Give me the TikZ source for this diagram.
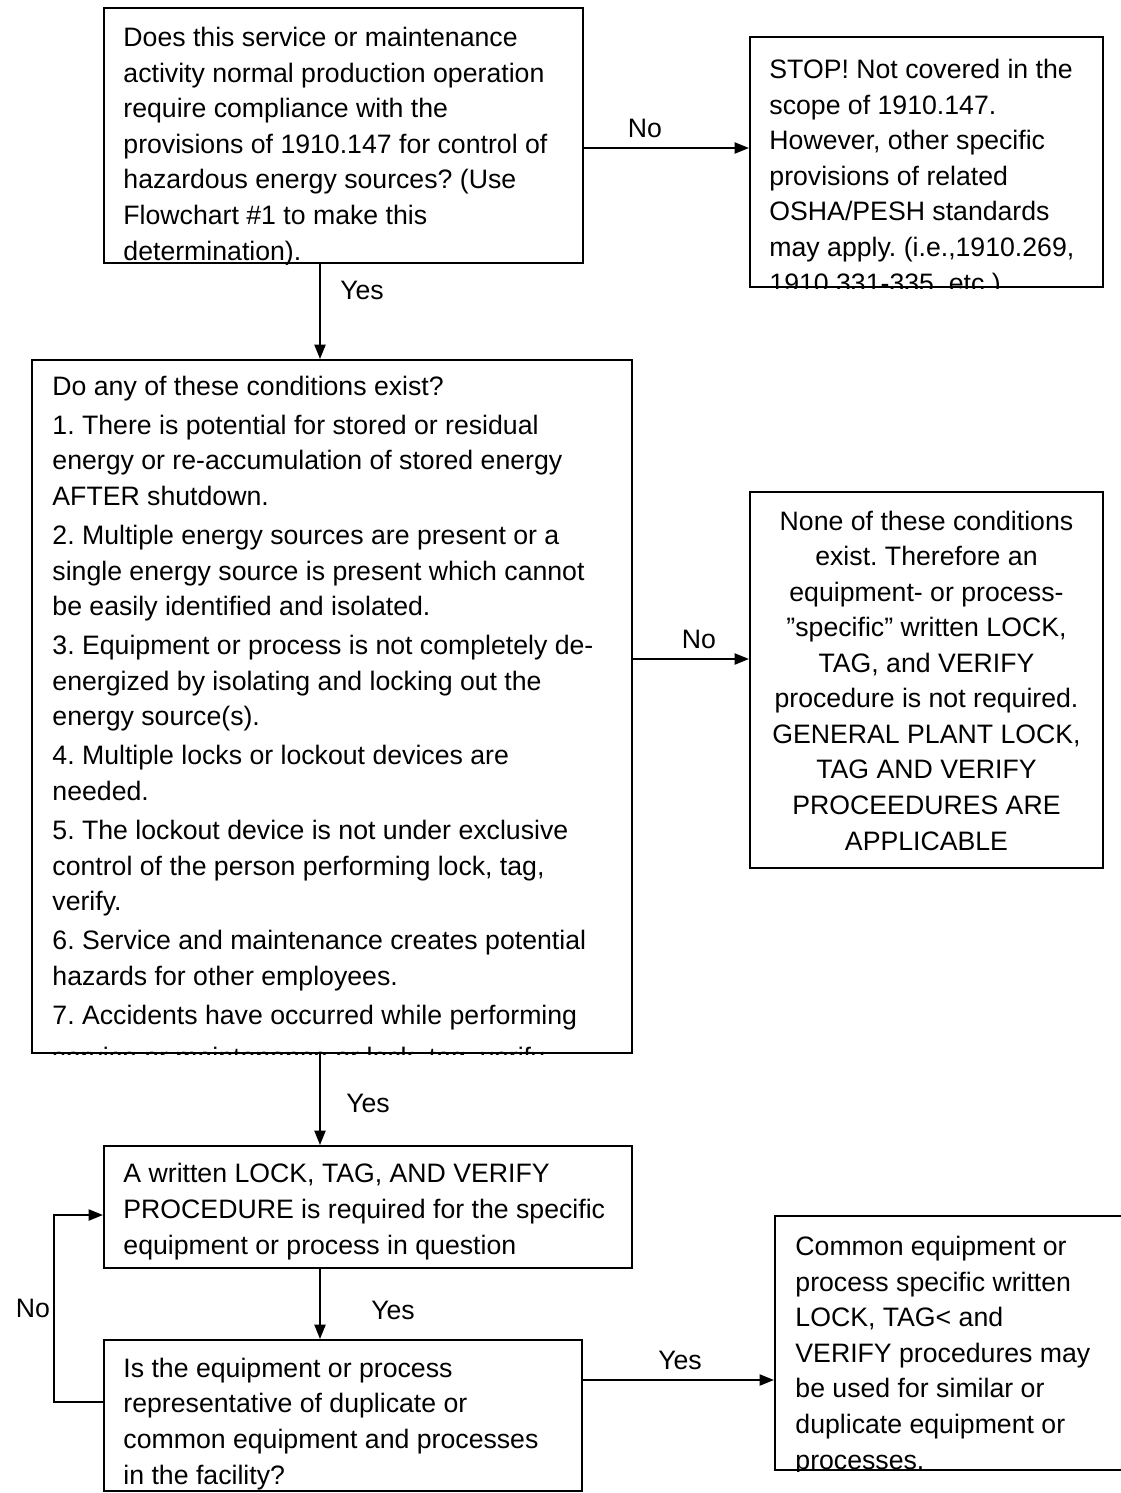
\documentclass[tikz,border=0pt]{standalone}
\usepackage{fontspec}
\setmainfont{Liberation Sans}
\usetikzlibrary{arrows.meta,fit}
\frenchspacing

\tikzset{
  box/.style={draw, line width=0.9pt, inner sep=0pt},
  txt/.style={anchor=base west, align=left, inner sep=0pt, font=\fontsize{12}{16}\selectfont},
  ctxt/.style={anchor=base, align=center, inner sep=0pt, font=\fontsize{12}{16}\selectfont},
  lbl/.style={inner sep=0pt, font=\fontsize{12}{16}\selectfont},
  flow/.style={line width=0.9pt, -{Triangle[length=6.5pt,width=5pt]}}
}

\begin{document}
\begin{tikzpicture}[x=0.45pt,y=-0.45pt]
\useasboundingbox (0,0) rectangle (1121,1493);
\clip (0,0) rectangle (1121,1493);

% boxes
\node [box, fit={(104,8) (583,263)}] (ask) {};
\node [box, fit={(750,37) (1103,287)}] (stop) {};
\node [box, fit={(32,360) (632,1053)}] (cond) {};
\node [box, fit={(750,492) (1103,868)}] (none) {};
\node [box, fit={(104,1146) (632,1268)}] (req) {};
\node [box, fit={(104,1340) (582,1491)}] (dup) {};
\node [box, fit={(775,1216) (1140,1470)}] (common) {};

% texts, cut off by their boxes (base = last line)
\begin{scope}
\clip (ask.south west) rectangle (ask.north east);
\node [txt] (tAsk) at (123,260) {Does this service or maintenance\\
activity normal production operation\\
require compliance with the\\
provisions of 1910.147 for control of\\
hazardous energy sources? (Use\\
Flowchart \#1 to make this\\
determination).};
\end{scope}

\begin{scope}
\clip (stop.south west) rectangle (stop.north east);
\node [txt] (tStop) at (769,292) {STOP! Not covered in the\\
scope of 1910.147.\\
However, other specific\\
provisions of related\\
OSHA/PESH standards\\
may apply. (i.e.,1910.269,\\
1910.331-335, etc.)};
\end{scope}

\begin{scope}
\clip (cond.south west) rectangle (cond.north east);
\node [txt] (tCond) at (52,1066) {Do any of these conditions exist?\\[1.6pt]
1. There is potential for stored or residual\\
energy or re-accumulation of stored energy\\
AFTER shutdown.\\[1.6pt]
2. Multiple energy sources are present or a\\
single energy source is present which cannot\\
be easily identified and isolated.\\[1.6pt]
3. Equipment or process is not completely de-\\
energized by isolating and locking out the\\
energy source(s).\\[1.6pt]
4. Multiple locks or lockout devices are\\
needed.\\[1.6pt]
5. The lockout device is not under exclusive\\
control of the person performing lock, tag,\\
verify.\\[1.6pt]
6. Service and maintenance creates potential\\
hazards for other employees.\\[1.6pt]
7. Accidents have occurred while performing\\[2.7pt]
service or maintenance or lock, tag, verify.};
\end{scope}

\node [ctxt] (tNone) at (926.5,850) {None of these conditions\\
exist. Therefore an\\
equipment- or process-\\
”specific” written LOCK,\\
TAG, and VERIFY\\
procedure is not required.\\
GENERAL PLANT LOCK,\\
TAG AND VERIFY\\
PROCEEDURES ARE\\
APPLICABLE};

\node [txt] (tReq) at (123,1254) {A written LOCK, TAG, AND VERIFY\\
PROCEDURE is required for the specific\\
equipment or process in question};

\begin{scope}
\clip (dup.south west) rectangle (dup.north east);
\node [txt] (tDup) at (123,1484) {Is the equipment or process\\
representative of duplicate or\\
common equipment and processes\\
in the facility?};
\end{scope}

\begin{scope}
\clip (common.south west) rectangle (common.north east);
\node [txt] (tCommon) at (795,1469) {Common equipment or\\
process specific written\\
LOCK, TAG< and\\
VERIFY procedures may\\
be used for similar or\\
duplicate equipment or\\
processes.};
\end{scope}

% connectors
\draw [flow] (ask.east |- 0,148) -- (stop.west |- 0,148);
\node [lbl] (no1) at (645,128) {No};
\draw [flow] (ask.south -| 320,0) -- (cond.north -| 320,0);
\node [lbl] (yes1) at (362,290) {Yes};
\draw [flow] (cond.east |- 0,659) -- (none.west |- 0,659);
\node [lbl] (no2) at (699,639) {No};
\draw [flow] (cond.south -| 320,0) -- (req.north -| 320,0);
\node [lbl] (yes2) at (368,1103) {Yes};
\draw [flow] (req.south -| 320,0) -- (dup.north -| 320,0);
\node [lbl] (yes3) at (393,1310) {Yes};
\draw [flow] (dup.east |- 0,1380) -- (common.west |- 0,1380);
\node [lbl] (yes4) at (680,1360) {Yes};
\draw [flow] (dup.west |- 0,1402) -- ++(-49,0) |- (req.west |- 0,1215);
\node [lbl] (no3) at (33,1308) {No};
\end{tikzpicture}
\end{document}
